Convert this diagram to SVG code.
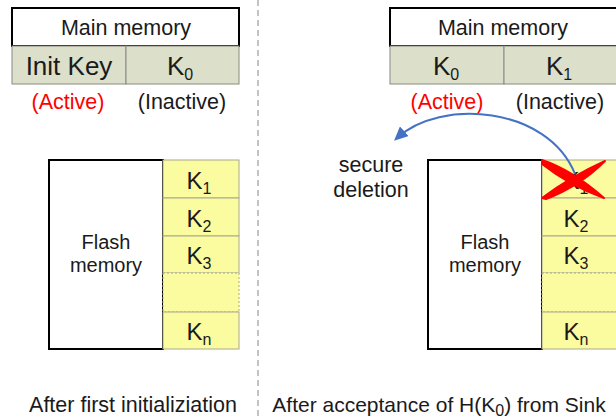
<svg xmlns="http://www.w3.org/2000/svg" width="616" height="419" viewBox="0 0 616 419">
<style>
text{font-family:"Liberation Sans",Arial,sans-serif;fill:#1a1a1a}
.t21{font-size:21.5px}
.t20{font-size:20px}
.t26{font-size:26px}
.t24{font-size:24px}
.sub{font-size:16px}
.hdr{fill:#fff;stroke:#000;stroke-width:2}
.key{fill:#dcdfca;stroke:#8a8a80;stroke-width:1}
.ylw{fill:#fbfb9f;stroke:#a8a890;stroke-width:1}
.fl{fill:#fff;stroke:#000;stroke-width:2}
</style>
<defs>
<marker id="ah" markerWidth="14" markerHeight="13" refX="10" refY="6.5" orient="auto" markerUnits="userSpaceOnUse" viewBox="0 0 14 13">
<path d="M0,0 L14,6.5 L0,13 z" fill="#4472c4"/>
</marker>
</defs>
<line x1="258" y1="0" x2="258" y2="419" stroke="#888" stroke-width="1" stroke-dasharray="6,4"/>
<g id="mainmem-left">
<rect class="hdr" x="12" y="8" width="227" height="38"/>
<text class="t21" x="126" y="35" text-anchor="middle">Main memory</text>
<rect class="key" x="12" y="46" width="114" height="38"/>
<rect class="key" x="126" y="46" width="113" height="38"/>
<text class="t26" x="69" y="75" text-anchor="middle">Init Key</text>
<text class="t26" x="180" y="75" text-anchor="middle">K<tspan class="sub" dy="5">0</tspan></text>
<text class="t21" x="68" y="109" text-anchor="middle" style="fill:#ff0000">(Active)</text>
<text class="t21" x="182" y="109" text-anchor="middle">(Inactive)</text>
</g>
<g id="mainmem-right">
<rect class="hdr" x="390" y="8" width="230" height="38"/>
<text class="t21" x="503" y="35" text-anchor="middle">Main memory</text>
<rect class="key" x="390" y="46" width="114" height="38"/>
<rect class="key" x="504" y="46" width="116" height="38"/>
<text class="t26" x="446" y="75" text-anchor="middle">K<tspan class="sub" dy="5">0</tspan></text>
<text class="t26" x="559" y="75" text-anchor="middle">K<tspan class="sub" dy="5">1</tspan></text>
<text class="t21" x="447" y="109" text-anchor="middle" style="fill:#ff0000">(Active)</text>
<text class="t21" x="560" y="109" text-anchor="middle">(Inactive)</text>
</g>
<g id="flash-left">
<rect class="fl" x="49" y="160" width="114" height="189"/>
<text class="t20" x="106" y="249" text-anchor="middle">Flash</text>
<text class="t20" x="106" y="272" text-anchor="middle">memory</text>
<rect class="ylw" x="163" y="160" width="76" height="38"/>
<rect class="ylw" x="163" y="198" width="76" height="38"/>
<rect class="ylw" x="163" y="236" width="76" height="37"/>
<rect x="163" y="273" width="76" height="39" fill="#fbfb9f" stroke="#a8a890" stroke-dasharray="2,2"/>
<rect class="ylw" x="163" y="312" width="76" height="37"/>
<text class="t24" x="199" y="189" text-anchor="middle">K<tspan class="sub" dy="5">1</tspan></text>
<text class="t24" x="199" y="227" text-anchor="middle">K<tspan class="sub" dy="5">2</tspan></text>
<text class="t24" x="199" y="264" text-anchor="middle">K<tspan class="sub" dy="5">3</tspan></text>
<text class="t24" x="199" y="340" text-anchor="middle">K<tspan class="sub" dy="5">n</tspan></text>
</g>
<g id="flash-right">
<rect class="fl" x="428" y="160" width="114" height="189"/>
<text class="t20" x="485" y="249" text-anchor="middle">Flash</text>
<text class="t20" x="485" y="272" text-anchor="middle">memory</text>
<rect class="ylw" x="542" y="160" width="80" height="38"/>
<rect class="ylw" x="542" y="198" width="80" height="38"/>
<rect class="ylw" x="542" y="236" width="80" height="37"/>
<rect x="542" y="273" width="80" height="39" fill="#fbfb9f" stroke="#a8a890" stroke-dasharray="2,2"/>
<rect class="ylw" x="542" y="312" width="80" height="37"/>
<text class="t24" x="576" y="189" text-anchor="middle">K<tspan class="sub" dy="5">1</tspan></text>
<text class="t24" x="576" y="227" text-anchor="middle">K<tspan class="sub" dy="5">2</tspan></text>
<text class="t24" x="576" y="264" text-anchor="middle">K<tspan class="sub" dy="5">3</tspan></text>
<text class="t24" x="576" y="340" text-anchor="middle">K<tspan class="sub" dy="5">n</tspan></text>
</g>
<g id="delete-mark">
<path d="M542,160 Q572,170 604,198 Q570,186 542,164 z" fill="#ff0000" stroke="#ff0000" stroke-width="2" stroke-linejoin="round"/>
<path d="M542,198 Q572,176 605,161 Q580,186 546,199 z" fill="#ff0000" stroke="#ff0000" stroke-width="2" stroke-linejoin="round"/>
</g>
<g id="connectors">
<path d="M575,174 C548,106 440,98 397,138" fill="none" stroke="#4472c4" stroke-width="2" marker-end="url(#ah)"/>
</g>
<g id="labels">
<text class="t21" x="371" y="172" text-anchor="middle">secure</text>
<text class="t21" x="371" y="197" text-anchor="middle">deletion</text>
<text class="t21" x="133" y="412" text-anchor="middle">After first initializiation</text>
<text x="439" y="412" text-anchor="middle" style="font-size:21px">After acceptance of H(K<tspan class="sub" dy="4">0</tspan><tspan dy="-4">) from Sink</tspan></text>
</g>
</svg>
